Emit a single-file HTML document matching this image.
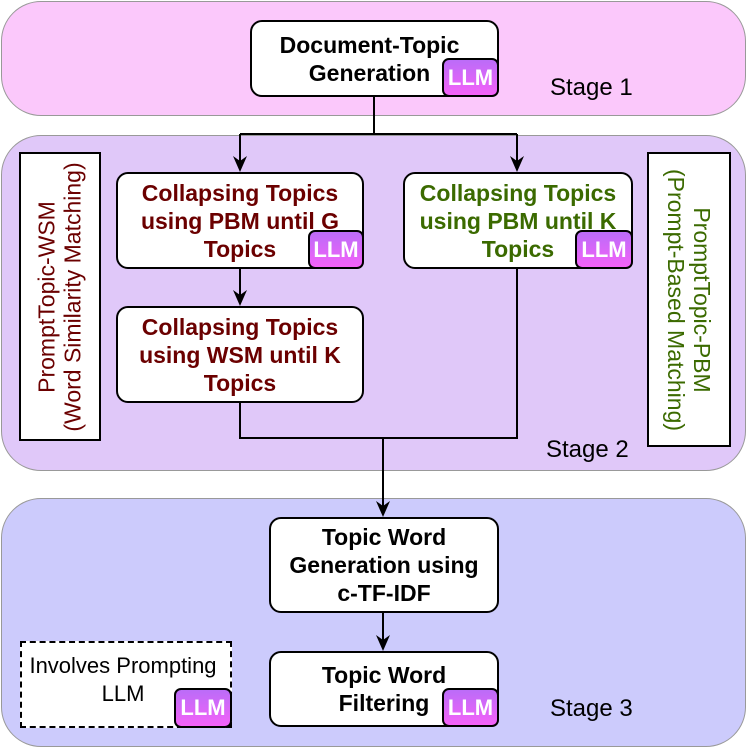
<!DOCTYPE html><html><head><style>
body{margin:0;width:748px;height:755px;position:relative;background:#fff;font-family:"Liberation Sans Narrow","Liberation Sans",sans-serif;overflow:hidden}
.a{position:absolute;box-sizing:border-box}
.stage{border:1px solid #999;border-radius:40px}
.box{background:#fff;border:2px solid #000;border-radius:12px;display:flex;align-items:center;justify-content:center;text-align:center;font-weight:bold;font-size:23px;line-height:28px;white-space:nowrap}
.llm{position:absolute;box-sizing:border-box;border:2px solid #000;border-radius:7px;background:linear-gradient(#bb6cf8,#f462f8);color:#fff;font-weight:bold;font-size:22px;display:flex;align-items:center;justify-content:center}
.lbl{position:absolute;font-size:24px}
.side{background:#fff;border:2px solid #000;display:flex;align-items:center;justify-content:center}
.side span{transform:rotate(90deg);white-space:nowrap;text-align:center;font-size:23px;line-height:26px}
</style></head><body>
<div class="a stage" style="left:1px;top:1px;width:745px;height:115px;background:#fbc8fb"></div>
<div class="a stage" style="left:1px;top:135px;width:745px;height:336px;background:#e0c8f9"></div>
<div class="a stage" style="left:1px;top:498px;width:745px;height:249px;background:#cccbfc"></div>
<div class="lbl" style="left:550px;top:74px">Stage 1</div>
<div class="lbl" style="left:546px;top:436px">Stage 2</div>
<div class="lbl" style="left:550px;top:695px">Stage 3</div>
<svg class="a" style="left:0;top:0" width="748" height="755">
<g stroke="#000" stroke-width="2" fill="none">
<path d="M374 96V134M240 134H517M240 134V162M517 134V162M240 268V296M240 402V438H517V268M383 438V507M383 612V641"/>
</g>
<g fill="#000">
<path d="M240 172L233 156L240 161L247 156Z"/><path d="M517 172L510 156L517 161L524 156Z"/>
<path d="M240 306L233 290L240 295L247 290Z"/><path d="M383 517L376 501L383 506L390 501Z"/>
<path d="M383 651L376 635L383 640L390 635Z"/>
</g></svg>
<div class="a box" style="left:250px;top:20px;width:249px;height:77px;padding-right:10px">Document-Topic<br>Generation</div>
<div class="llm" style="left:442px;top:58px;width:57px;height:39px">LLM</div>
<div class="a box" style="left:116px;top:172px;width:248px;height:97px;color:#6b0000">Collapsing Topics<br>using PBM until G<br>Topics</div>
<div class="llm" style="left:308px;top:230px;width:56px;height:39px">LLM</div>
<div class="a box" style="left:403px;top:172px;width:230px;height:97px;color:#3b6a00">Collapsing Topics<br>using PBM until K<br>Topics</div>
<div class="llm" style="left:575px;top:230px;width:58px;height:39px">LLM</div>
<div class="a box" style="left:116px;top:306px;width:248px;height:97px;color:#6b0000">Collapsing Topics<br>using WSM until K<br>Topics</div>
<div class="a side" style="left:19px;top:152px;width:82px;height:289px"><span style="color:#6b0000;transform:rotate(-90deg)">PromptTopic-WSM<br>(Word Similarity Matching)</span></div>
<div class="a side" style="left:647px;top:152px;width:84px;height:295px"><span style="color:#3b6a00">PromptTopic-PBM<br>(Prompt-Based Matching)</span></div>
<div class="a box" style="left:269px;top:517px;width:230px;height:96px">Topic Word<br>Generation using<br>c-TF-IDF</div>
<div class="a box" style="left:269px;top:651px;width:230px;height:76px">Topic Word<br>Filtering</div>
<div class="llm" style="left:442px;top:688px;width:57px;height:39px">LLM</div>
<div class="a" style="left:20px;top:641px;width:212px;height:87px;background:#fff;border:2px dashed #000;text-align:center;font-size:22px;line-height:28px;padding:9px 6px 0 0;white-space:nowrap">Involves Prompting<br>LLM</div>
<div class="llm" style="left:174px;top:688px;width:58px;height:40px">LLM</div>
</body></html>
